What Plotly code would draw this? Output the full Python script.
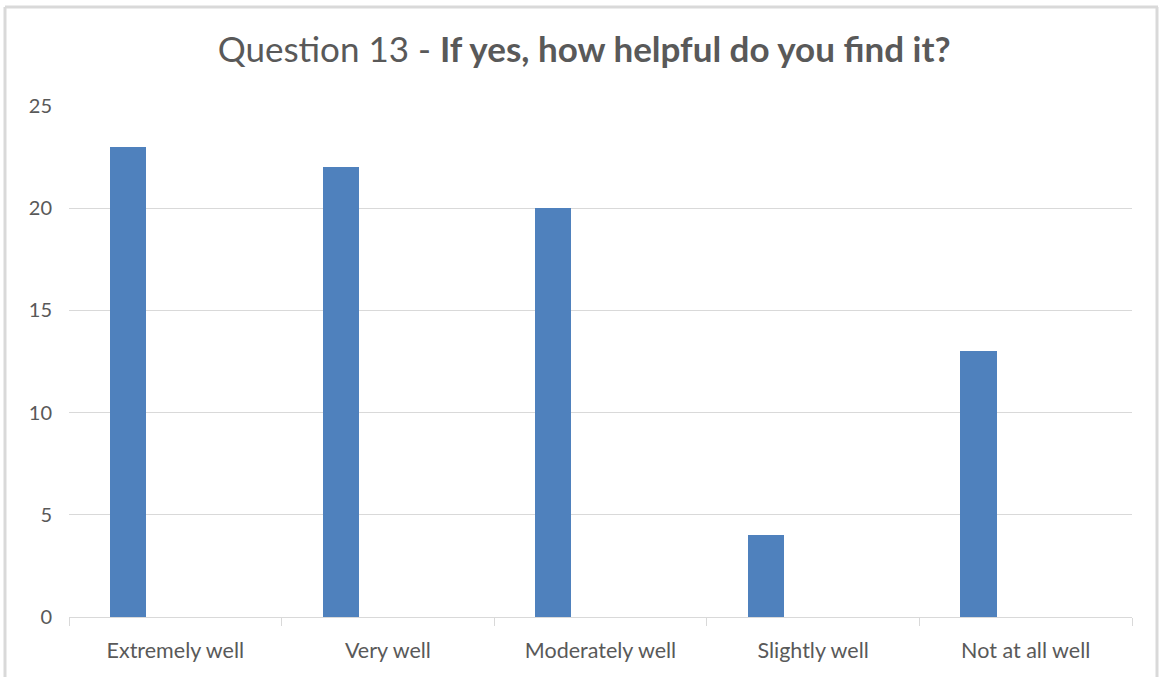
import plotly.graph_objects as go

categories = ["Extremely well", "Very well", "Moderately well", "Slightly well", "Not at all well"]
values = [23, 22, 20, 4, 13]
y_ticks = [0, 5, 10, 15, 20, 25]

FONT = "Lato, Open Sans, sans-serif"
TXT = "#595959"
GRID = "#d9d9d9"

fig = go.Figure()
fig.add_trace(go.Bar(
    x=categories, y=values,
    marker=dict(color="#4f81bd", line=dict(width=0)),
    width=0.17, offset=-0.307,
))

W, H = 1159, 677
L, R, T, B = 69, 27, 106, 60
pw, ph = W - L - R, H - T - B

def px2x(px):
    return (px - L) / pw

def py2y(py):
    return (H - B - py) / ph

fig.update_layout(
    width=W, height=H,
    margin=dict(l=L, r=R, t=T, b=B),
    paper_bgcolor="white", plot_bgcolor="white",
    showlegend=False,
    bargap=0,
    title=dict(
        text="Question 13 - <b>If yes, how helpful do you find it?</b>",
        x=0.504, xref="container", xanchor="center",
        y=1 - 50 / H, yref="container", yanchor="middle",
        font=dict(family=FONT, size=35, color=TXT),
    ),
    xaxis=dict(
        type="category",
        range=[-0.5, 4.5],
        showline=True, linecolor=GRID, linewidth=1,
        ticks="outside", tickson="boundaries", ticklen=8, tickcolor=GRID,
        showgrid=False,
        tickfont=dict(family=FONT, size=21.5, color=TXT),
        ticklabelstandoff=14,
    ),
    yaxis=dict(
        range=[0, 25], tickvals=y_ticks,
        showgrid=True, gridcolor=GRID, gridwidth=1,
        zeroline=False, showline=False, ticks="",
        tickfont=dict(family=FONT, size=20, color=TXT),
        ticklabelstandoff=16,
    ),
    shapes=[
        dict(type="line", xref="paper", yref="paper",
             x0=px2x(5), x1=px2x(5), y0=py2y(7), y1=py2y(690),
             line=dict(color=GRID, width=3)),
        dict(type="line", xref="paper", yref="paper",
             x0=px2x(5), x1=px2x(1158), y0=py2y(7), y1=py2y(7),
             line=dict(color=GRID, width=3)),
        dict(type="line", xref="paper", yref="paper",
             x0=px2x(1157), x1=px2x(1157), y0=py2y(7), y1=py2y(690),
             line=dict(color=GRID, width=3)),
    ],
)

fig.write_html("out.html")
